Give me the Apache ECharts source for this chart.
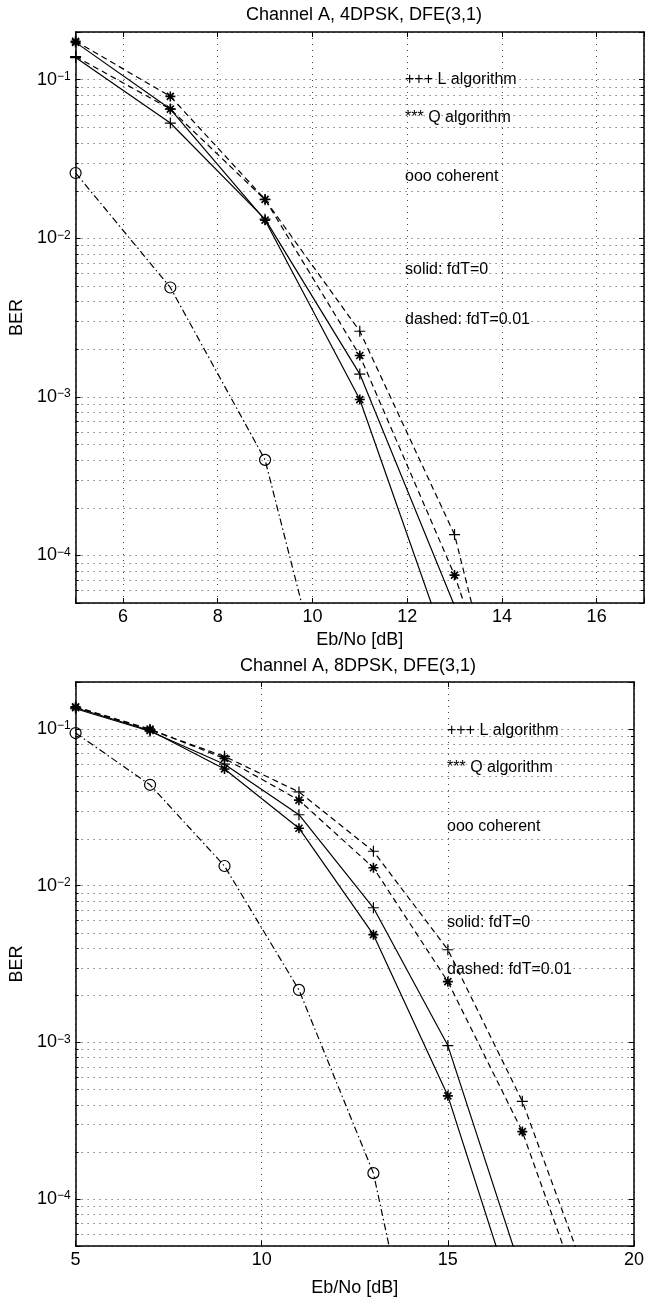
<!DOCTYPE html>
<html>
<head>
<meta charset="utf-8">
<script src="https://cdn.jsdelivr.net/npm/echarts@6/dist/echarts.min.js"></script>
<style>
html,body{margin:0;padding:0;background:#fff;}
#chart{width:647px;height:1298px;}
</style>
</head>
<body>
<div id="chart"></div>
<script>
// ---------- DATA ----------
// Upper panel: Channel A, 4DPSK, DFE(3,1)
const ebno4 = [5, 7, 9, 11, 13, 15];
const L_solid_4 = [0.138, 0.0533, 0.0132, 0.00139, 4.8e-5];
const Q_solid_4 = [0.172, 0.0653, 0.0130, 0.00096, 1.9e-5];
const L_dash_4  = [0.140, 0.0653, 0.0175, 0.00259, 1.35e-4, 5.4e-7];
const Q_dash_4  = [0.175, 0.0785, 0.0176, 0.00182, 7.5e-5, 1.3e-6];
const coh_4     = [0.0258, 0.00489, 0.00040, 1.8e-6];

// Lower panel: Channel A, 8DPSK, DFE(3,1)
const ebno8 = [5, 7, 9, 11, 13, 15, 17, 19];
const L_solid_8 = [0.135, 0.097, 0.0597, 0.0284, 0.00723, 0.000953, 3.3e-5];
const Q_solid_8 = [0.137, 0.098, 0.0557, 0.0233, 0.00487, 0.000455, 1.5e-5];
const L_dash_8  = [0.138, 0.099, 0.067, 0.0397, 0.0166, 0.0039, 0.00042, 2.1e-5];
const Q_dash_8  = [0.139, 0.100, 0.065, 0.0352, 0.01303, 0.00244, 0.000269, 1.25e-5];
const coh_8     = [0.0944, 0.0441, 0.01336, 0.00216, 0.000146, 9e-7];

// Axis settings / tick values
const titles = ['Channel A, 4DPSK, DFE(3,1)', 'Channel A, 8DPSK, DFE(3,1)'];
const xName = 'Eb/No [dB]';
const yName = 'BER';
const xRange4 = [5, 17];
const xRange8 = [5, 20];
const yRange = [5e-5, 0.2];
const minorTickValues = [
  6e-5, 7e-5, 8e-5, 9e-5,
  2e-4, 3e-4, 4e-4, 5e-4, 6e-4, 7e-4, 8e-4, 9e-4,
  2e-3, 3e-3, 4e-3, 5e-3, 6e-3, 7e-3, 8e-3, 9e-3,
  2e-2, 3e-2, 4e-2, 5e-2, 6e-2, 7e-2, 8e-2, 9e-2
];
const notes = ['+++ L algorithm', '*** Q algorithm', 'ooo coherent', 'solid: fdT=0', 'dashed: fdT=0.01'];

// ---------- STYLE ----------
const FONT = '"Liberation Sans", Arial, Helvetica, sans-serif';
const BLACK = '#000';
const GRIDC = '#444';
const DOT = [1, 5];
const PLUS = 'path://M0,5 L10,5 M5,0 L5,10';
const STAR = 'path://M0,5 L10,5 M5,0 L5,10 M1.5,1.5 L8.5,8.5 M1.5,8.5 L8.5,1.5';

const chart = echarts.init(document.getElementById('chart'), null, {renderer: 'canvas'});

function pairs(xs, ys) { return ys.map((y, i) => [xs[i], y]); }

function yLabel(v) {
  const l = Math.log10(v);
  const k = Math.round(l);
  if (Math.abs(l - k) > 1e-6) return '';
  return '{b|10}{s|\u2212' + (-k) + '}';
}

const richY = {
  b: {fontSize: 18, fontFamily: FONT, color: BLACK, lineHeight: 18, padding: [6, 0, 6, 0]},
  s: {fontSize: 12, fontFamily: FONT, color: BLACK, lineHeight: 12, verticalAlign: 'top'}
};

function xAxisPair(grid, range, opts) {
  const base = {
    gridIndex: grid, type: 'value', min: range[0], max: range[1],
    axisLine: {show: true, onZero: false, lineStyle: {color: BLACK, width: 1.5}},
    axisTick: {show: true, inside: true, length: 5, lineStyle: {color: BLACK, width: 1}},
    minorTick: {show: false}
  };
  Object.assign(base, opts.scale);
  const bottom = Object.assign({}, base, {
    position: 'bottom',
    name: xName, nameLocation: 'middle', nameGap: opts.nameGap,
    nameTextStyle: {fontSize: 18, fontFamily: FONT, color: BLACK},
    axisLabel: {show: true, margin: opts.margin, fontSize: 18, fontFamily: FONT, color: BLACK, formatter: opts.formatter,
                showMinLabel: true, showMaxLabel: true},
    splitLine: {show: true, lineStyle: {color: GRIDC, width: 1, type: DOT}}
  });
  const top = Object.assign({}, base, {
    position: 'top', axisLabel: {show: false}, splitLine: {show: false}
  });
  return [bottom, top];
}

function yAxisPair(grid) {
  const base = {
    gridIndex: grid, type: 'log', logBase: 10, min: yRange[0], max: yRange[1],
    axisLine: {show: true, onZero: false, lineStyle: {color: BLACK, width: 1.5}},
    axisTick: {show: true, inside: true, length: 5, lineStyle: {color: BLACK, width: 1}},
    minorTick: {show: false}
  };
  const left = Object.assign({}, base, {
    position: 'left',
    name: yName, nameLocation: 'middle', nameGap: 48, nameRotate: 90,
    nameTextStyle: {fontSize: 18, fontFamily: FONT, color: BLACK},
    axisLabel: {show: true, margin: 5, formatter: yLabel, rich: richY, showMinLabel: true, showMaxLabel: true},
    splitLine: {show: true, lineStyle: {color: GRIDC, width: 1, type: DOT}}
  });
  const right = Object.assign({}, base, {
    position: 'right', axisLabel: {show: false}, splitLine: {show: false}
  });
  return [left, right];
}

const xa4 = xAxisPair(0, xRange4, {scale: {splitNumber: 6}, nameGap: 28, margin: 5,
  formatter: v => (Math.abs(v % 2) < 1e-9 ? String(v) : '')});
const xa8 = xAxisPair(1, xRange8, {scale: {interval: 5}, nameGap: 33, margin: 5,
  formatter: v => String(v)});
const ya4 = yAxisPair(0);
const ya8 = yAxisPair(1);

function lineSeries(xi, yi, xs, ys, kind, marker) {
  const dash = kind === 'solid' ? 'solid' : (kind === 'dashed' ? [6, 4] : [7, 3, 1.5, 3]);
  let symbol = 'none', size = 10;
  if (marker === 'plus') { symbol = PLUS; size = 11; }
  else if (marker === 'star') { symbol = STAR; size = 10; }
  else if (marker === 'circle') { symbol = 'circle'; size = 11; }
  return {
    type: 'line', xAxisIndex: xi, yAxisIndex: yi,
    data: pairs(xs, ys), symbol: symbol, symbolSize: size, showSymbol: true,
    clip: true, silent: true, animation: false,
    lineStyle: {color: BLACK, width: 1.2, type: dash},
    itemStyle: {color: 'rgba(0,0,0,0)', borderColor: BLACK, borderWidth: marker === 'star' ? 1.6 : 1.2},
    z: 5
  };
}

function minorSeries(xi, yi, xMin) {
  return {
    type: 'custom', xAxisIndex: xi, yAxisIndex: yi, silent: true, animation: false,
    data: minorTickValues.map(v => [xMin, v]),
    renderItem: function (params, api) {
      const cs = params.coordSys;
      const y = Math.round(api.coord([api.value(0), api.value(1)])[1]) + 0.5;
      return {
        type: 'group',
        children: [
          {type: 'line', shape: {x1: cs.x, y1: y, x2: cs.x + cs.width, y2: y},
           style: {stroke: GRIDC, lineWidth: 1, lineDash: DOT, fill: null}},
          {type: 'line', shape: {x1: cs.x, y1: y, x2: cs.x + 3, y2: y},
           style: {stroke: BLACK, lineWidth: 1, fill: null}},
          {type: 'line', shape: {x1: cs.x + cs.width - 3, y1: y, x2: cs.x + cs.width, y2: y},
           style: {stroke: BLACK, lineWidth: 1, fill: null}}
        ]
      };
    },
    z: 1
  };
}

function txt(x, y, s, size, align) {
  return {type: 'text', x: x, y: y, silent: true,
    style: {text: s, font: size + 'px ' + FONT, fill: BLACK, textAlign: align || 'left', textVerticalAlign: 'middle'}};
}

const noteY4 = [80, 118, 177, 270, 320];
const noteY8 = [731, 768, 827, 923, 970];

const option = {
  animation: false,
  backgroundColor: '#fff',
  grid: [
    {left: 65, top: 32, width: 581, height: 571, containLabel: false},
    {left: 64, top: 682, width: 575, height: 572, containLabel: false}
  ],
  xAxis: [xa4[0], xa4[1], xa8[0], xa8[1]],
  yAxis: [ya4[0], ya4[1], ya8[0], ya8[1]],
  series: [
    minorSeries(0, 0, xRange4[0]),
    minorSeries(2, 2, xRange8[0]),
    lineSeries(0, 0, ebno4, L_solid_4, 'solid', 'plus'),
    lineSeries(0, 0, ebno4, Q_solid_4, 'solid', 'star'),
    lineSeries(0, 0, ebno4, L_dash_4, 'dashed', 'plus'),
    lineSeries(0, 0, ebno4, Q_dash_4, 'dashed', 'star'),
    lineSeries(0, 0, ebno4, coh_4, 'dashdot', 'circle'),
    lineSeries(2, 2, ebno8, L_solid_8, 'solid', 'plus'),
    lineSeries(2, 2, ebno8, Q_solid_8, 'solid', 'star'),
    lineSeries(2, 2, ebno8, L_dash_8, 'dashed', 'plus'),
    lineSeries(2, 2, ebno8, Q_dash_8, 'dashed', 'star'),
    lineSeries(2, 2, ebno8, coh_8, 'dashdot', 'circle')
  ],
  graphic: [
    txt(364, 15, titles[0], 18, 'center'),
    txt(358, 666, titles[1], 18, 'center')
  ].concat(notes.map((s, i) => txt(405, noteY4[i], s, 16)))
   .concat(notes.map((s, i) => txt(447, noteY8[i], s, 16)))
};

chart.setOption(option);
</script>
</body>
</html>
